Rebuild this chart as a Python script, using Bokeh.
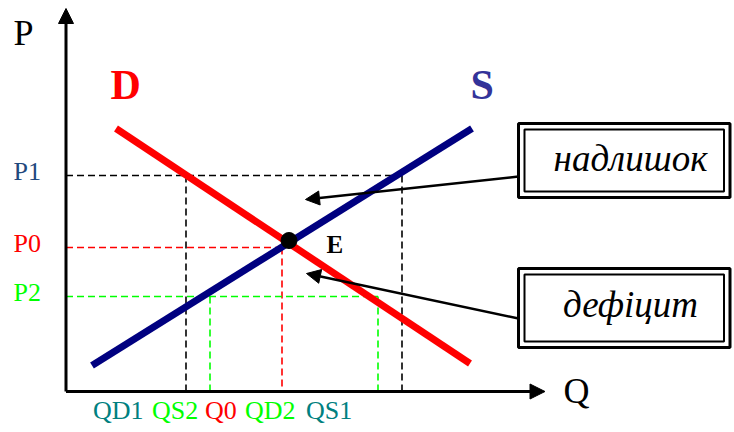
from bokeh.plotting import figure
from bokeh.models import Range1d, Arrow, NormalHead, ColumnDataSource
from bokeh.core.properties import value
from bokeh.embed import file_html
from bokeh.resources import INLINE

# ---- data (units measured from the origin of the Q/P axes) ----
price_names = ["P1", "P0", "P2"]
price_values = [216, 144, 95]
price_colors = ["#1F497D", "#FF0000", "#00FF00"]

qty_names = ["QD1", "QS2", "Q0", "QD2", "QS1"]
qty_values = [120, 144, 216, 312, 336]
qty_colors = ["#008080", "#00FF00", "#FF0000", "#00FF00", "#008080"]
qty_label_x = [27, 86, 139, 179, 240]

demand_q = [50, 404]
demand_p = [263, 28]
supply_q = [26, 406]
supply_p = [26, 263]
equilibrium_q = [223]
equilibrium_p = [151]

axis_q_max = 479
axis_p_max = 383

box_texts = ["надлишок", "дефіцит"]
box_top = [268, 123]
box_bottom = [194, 44]
box_text_p = [213, 67]
arrow_tip_q = [239.5, 240.5]
arrow_tip_p = [192, 118]
arrow_start_p = [215, 73]
box_left = 452.5
box_right = 664

SERIF = value("Liberation Serif")

p = figure(width=734, height=432, x_range=Range1d(-65.5, 668.5), y_range=Range1d(-41, 391),
           x_axis_location=None, y_axis_location=None, toolbar_location=None,
           output_backend="svg", min_border=0, outline_line_color=None)
p.grid.visible = False
p.min_border_left = p.min_border_right = p.min_border_top = p.min_border_bottom = 0

# axes with arrow heads
p.add_layout(Arrow(end=NormalHead(size=15, fill_color="black", line_color="black"),
                   x_start=0, y_start=0, x_end=0, y_end=axis_p_max, line_width=3))
p.add_layout(Arrow(end=NormalHead(size=15, fill_color="black", line_color="black"),
                   x_start=0, y_start=0, x_end=axis_q_max, y_end=0, line_width=3))

# dashed guide lines
P1, P0, P2 = price_values
QD1, QS2, Q0, QD2, QS1 = qty_values
seg = dict(
    x0=[0, QD1, QS1, 0, Q0, 0, QS2, QD2],
    y0=[P1, P1, P1, P0, P0, P2, P2, P2],
    x1=[QS1, QD1, QS1, Q0, Q0, QD2, QS2, QD2],
    y1=[P1, 0, 0, P0, 0, P2, 0, 0],
    c=["black", "black", "black", "#FF0000", "#FF0000", "#00FF00", "#00FF00", "#00FF00"],
)
p.segment(x0="x0", y0="y0", x1="x1", y1="y1", color="c", line_width=1.6,
          line_dash="7 4", source=ColumnDataSource(seg))

# demand / supply
p.line(demand_q, demand_p, line_color="#FF0000", line_width=7)
p.line(supply_q, supply_p, line_color="#000080", line_width=7)
p.scatter(equilibrium_q, equilibrium_p, size=16, fill_color="black", line_color="black")

# labels
p.text(x=[-52.5], y=[339], text=["P"], text_font=SERIF, text_font_size="36px", text_color="black")
p.text(x=[497.5], y=[-19], text=["Q"], text_font=SERIF, text_font_size="36px", text_color="black")
p.text(x=[44.5], y=[284], text=["D"], text_font=SERIF, text_font_size="42px",
       text_font_style="bold", text_color="#FF0000")
p.text(x=[404.5], y=[284], text=["S"], text_font=SERIF, text_font_size="42px",
       text_font_style="bold", text_color="#333399")
p.text(x=[260.5], y=[134], text=["E"], text_font=SERIF, text_font_size="25px",
       text_font_style="bold", text_color="black")

p.text(x=[-52.5] * 3, y=[v - 10 for v in price_values], text=price_names, text_color=price_colors,
       text_font=SERIF, text_font_size="26px")
p.text(x=qty_label_x, y=[-33] * 5, text=qty_names, text_color=qty_colors,
       text_font=SERIF, text_font_size="26px")

# boxes with double border
p.quad(left=[box_left] * 2, right=[box_right] * 2, top=box_top, bottom=box_bottom,
       fill_color="white", line_color="black", line_width=3)
p.quad(left=[box_left + 6] * 2, right=[box_right - 6] * 2, top=[t - 6 for t in box_top],
       bottom=[b + 6 for b in box_bottom], fill_color=None, line_color="black", line_width=2)
p.text(x=[564.5] * 2, y=box_text_p, text=box_texts, text_align="center",
       text_font=SERIF, text_font_size="37px", text_font_style="italic", text_color="black")

for tq, tp, sp in zip(arrow_tip_q, arrow_tip_p, arrow_start_p):
    p.add_layout(Arrow(end=NormalHead(size=14, fill_color="black", line_color="black"),
                       x_start=box_left, y_start=sp, x_end=tq, y_end=tp, line_width=2.5))

open("out.html", "w").write(file_html(p, INLINE))
